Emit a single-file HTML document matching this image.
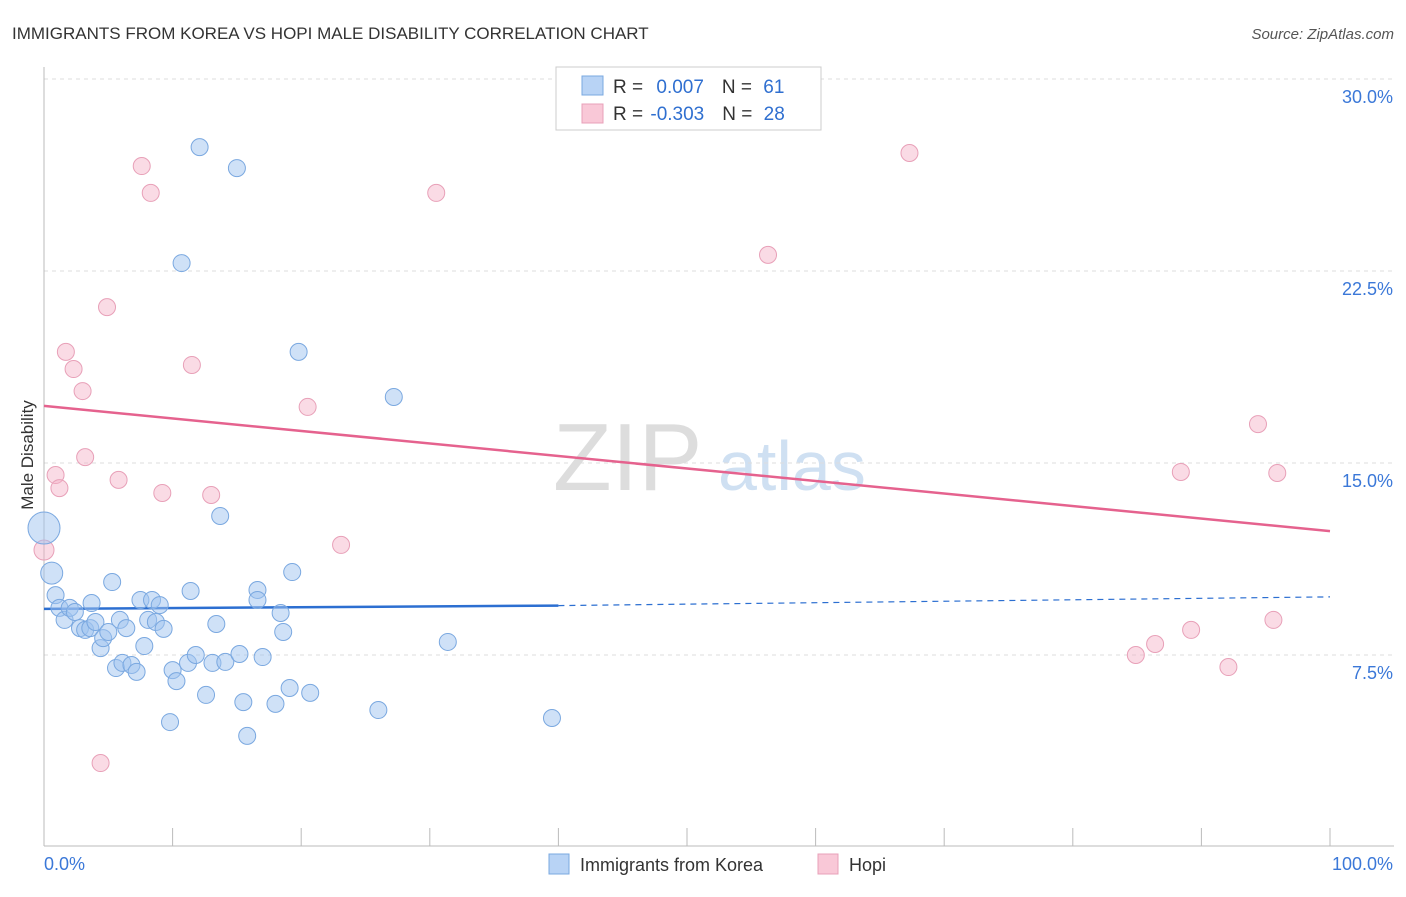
<!DOCTYPE html>
<html><head><meta charset="utf-8"><style>
body{margin:0;background:#fff;font-family:"Liberation Sans",sans-serif;}
svg text{font-family:"Liberation Sans",sans-serif;}
</style></head><body>
<svg id="chart" width="1406" height="892">
<text x="12" y="39" font-size="17" fill="#333">IMMIGRANTS FROM KOREA VS HOPI MALE DISABILITY CORRELATION CHART</text>
<text x="1394" y="39" font-size="15" fill="#555" text-anchor="end" font-style="italic">Source: ZipAtlas.com</text>
<text x="553" y="490" font-size="96" fill="#ddd" font-family="Liberation Serif">ZIP</text>
<text x="718" y="490" font-size="70" fill="#cfe0f2">atlas</text>
<text x="33" y="455" font-size="17" fill="#333" text-anchor="middle" transform="rotate(-90 33 455)">Male Disability</text>
<g id="grid"></g><g id="axes"></g><g id="lines"></g><g id="pts"></g>
<g>
<rect x="556" y="67" width="265" height="63" fill="#fff" stroke="#ccc"/>
<rect x="582" y="76" width="21" height="19" fill="#b8d3f5" stroke="#7aa8e0"/>
<rect x="582" y="104" width="21" height="19" fill="#f9c8d7" stroke="#e8a0b8"/>
<text x="613" y="93" font-size="19" fill="#333">R = <tspan fill="#2f6fd0" dx="8">0.007</tspan><tspan dx="18" fill="#333">N = </tspan><tspan fill="#2f6fd0" dx="6">61</tspan></text>
<text x="613" y="120" font-size="19" fill="#333">R = <tspan fill="#2f6fd0" dx="2">-0.303</tspan><tspan dx="18" fill="#333">N = </tspan><tspan fill="#2f6fd0" dx="6">28</tspan></text>
</g>
<g>
<rect x="549" y="854" width="20" height="20" fill="#b8d3f5" stroke="#7aa8e0"/>
<text x="580" y="871" font-size="18" fill="#333">Immigrants from Korea</text>
<rect x="818" y="854" width="20" height="20" fill="#f9c8d7" stroke="#e8a0b8"/>
<text x="849" y="871" font-size="18" fill="#333">Hopi</text>
</g>
</svg>
<script>
const yTicks=[7.5,15,22.5,30];
const yTickLabels=["7.5%","15.0%","22.5%","30.0%"];
const xTicks=[0,10,20,30,40,50,60,70,80,90,100];
const koreaX=[0,0.6,0.9,1.2,1.6,2.0,2.4,2.8,3.2,3.6,3.7,4.0,4.4,4.6,5.0,5.3,5.6,5.9,6.1,6.4,6.8,7.2,7.5,7.8,8.1,8.4,8.7,9.0,9.3,9.8,10.0,10.3,10.7,11.2,11.4,11.8,12.1,12.6,13.1,13.4,13.7,14.1,15.0,15.2,15.5,15.8,16.6,16.6,17.0,18.0,18.4,18.6,19.1,19.3,19.8,20.7,26.0,27.2,31.4,39.5];
const koreaY=[12.46,10.7,9.84,9.34,8.87,9.34,9.18,8.55,8.48,8.55,9.53,8.79,7.77,8.16,8.4,10.35,6.99,8.87,7.19,8.55,7.11,6.84,9.65,7.85,8.87,9.65,8.79,9.45,8.52,4.88,6.91,6.48,22.81,7.19,10.0,7.5,27.34,5.94,7.19,8.71,12.93,7.23,26.52,7.54,5.66,4.34,10.04,9.65,7.42,5.59,9.14,8.4,6.21,10.74,19.34,6.02,5.35,17.58,8.01,5.04];
const hopiX=[0,0.9,1.2,1.7,2.3,3.0,3.2,4.4,4.9,5.8,7.6,8.3,9.2,11.5,13.0,20.5,23.1,30.5,56.3,67.3,84.9,86.4,88.4,89.2,92.1,94.4,95.6,95.9];
const hopiY=[11.6,14.53,14.02,19.34,18.67,17.81,15.23,3.28,21.09,14.34,26.6,25.55,13.83,18.83,13.75,17.19,11.8,25.55,23.13,27.11,7.5,7.93,14.65,8.48,7.03,16.52,8.87,14.61];
const koreaTrend=[9.3,9.43,9.77];
const hopiTrend=[17.23,12.34];
const NS='http://www.w3.org/2000/svg';
const xs=v=>44+v*12.86, ys=v=>847-v*25.6;
function mk(p,t,a){const e=document.createElementNS(NS,t);for(const k in a)e.setAttribute(k,a[k]);document.getElementById(p).appendChild(e);return e;}
yTicks.forEach((t,i)=>{
 const g=mk('grid','line',{x1:44,x2:1394,y1:ys(t),y2:ys(t),stroke:'#ddd','stroke-dasharray':'4 4'});
 
 
 const l=mk('axes','text',{x:1393,y:ys(t)+24,'font-size':18,fill:'#3b78d8','text-anchor':'end'});
 l.textContent=yTickLabels[i];
 
 
});
mk('axes','line',{x1:44,x2:44,y1:67,y2:846,stroke:'#bbb'});
mk('axes','line',{x1:44,x2:1394,y1:846,y2:846,stroke:'#bbb'});
xTicks.forEach(t=>{const e=mk('axes','line',{x1:xs(t),x2:xs(t),y1:828,y2:846,stroke:'#bbb'});
 
 });
let a=mk('axes','text',{x:44,y:870,'font-size':18,fill:'#3b78d8'});a.textContent='0.0%';


a=mk('axes','text',{x:1393,y:870,'font-size':18,fill:'#3b78d8','text-anchor':'end'});a.textContent='100.0%';


hopiX.forEach((x,i)=>{const c=mk('pts','circle',{cx:xs(x),cy:ys(hopiY[i]),r:i==0?10:8.5,fill:'rgba(245,175,198,0.45)',stroke:'#e8a0b8','stroke-width':1});
 
 });
koreaX.forEach((x,i)=>{const c=mk('pts','circle',{cx:xs(x),cy:ys(koreaY[i]),r:i==0?16:(i==1?11:8.5),fill:'rgba(160,196,240,0.5)',stroke:'#7aa8e0','stroke-width':1});
 
 });
let L=mk('lines','line',{x1:xs(0),y1:ys(koreaTrend[0]),x2:xs(40),y2:ys(koreaTrend[1]),stroke:'#2c6fd1','stroke-width':2.5});


L=mk('lines','line',{x1:xs(40),y1:ys(koreaTrend[1]),x2:xs(100),y2:ys(koreaTrend[2]),stroke:'#2c6fd1','stroke-width':1.2,'stroke-dasharray':'6 5'});


L=mk('lines','line',{x1:xs(0),y1:ys(hopiTrend[0]),x2:xs(100),y2:ys(hopiTrend[1]),stroke:'#e5628e','stroke-width':2.5});


</script>
</body></html>
